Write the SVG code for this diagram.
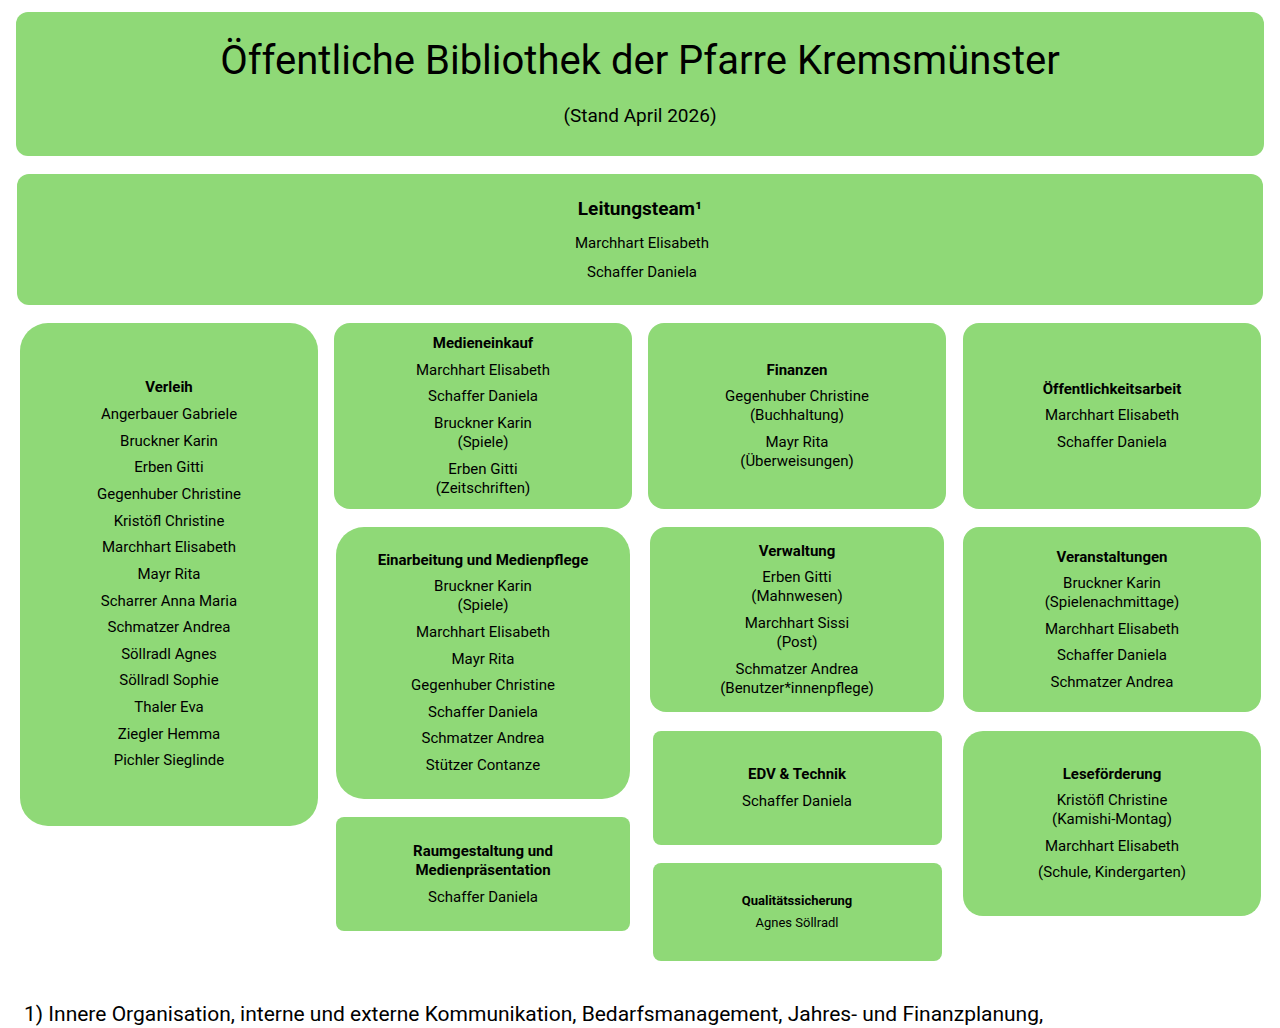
<svg xmlns="http://www.w3.org/2000/svg" width="1280" height="1028" viewBox="0 0 1280 1028">
<style>
.b{fill:#8FD977}
text{font-family:Roboto,"Liberation Sans",sans-serif;fill:#000;text-anchor:middle;font-size:15px}
.h{font-weight:bold}
</style>
<rect width="1280" height="1028" fill="#fff"/>
<g id="title"><rect class="b" x="16" y="12" width="1248" height="144" rx="12"/>
<text x="640" y="74" style="font-size:40px">Öffentliche Bibliothek der Pfarre Kremsmünster</text>
<text x="640" y="122" style="font-size:19px">(Stand April 2026)</text></g>
<g id="leitung"><rect class="b" x="17" y="174" width="1246" height="131" rx="12"/>
<text x="640" y="215" class="h" style="font-size:19px">Leitungsteam¹</text>
<text x="642" y="248">Marchhart Elisabeth</text><text x="642" y="277">Schaffer Daniela</text></g>
<g id="verleih"><rect class="b" x="20" y="323" width="298" height="503" rx="28"/>
<text x="169" y="392" class="h">Verleih</text>
<text x="169" y="419">Angerbauer Gabriele</text><text x="169" y="446">Bruckner Karin</text><text x="169" y="472">Erben Gitti</text><text x="169" y="499">Gegenhuber Christine</text><text x="169" y="526">Kristöfl Christine</text><text x="169" y="552">Marchhart Elisabeth</text><text x="169" y="579">Mayr Rita</text><text x="169" y="606">Scharrer Anna Maria</text><text x="169" y="632">Schmatzer Andrea</text><text x="169" y="659">Söllradl  Agnes</text><text x="169" y="685">Söllradl Sophie</text><text x="169" y="712">Thaler Eva</text><text x="169" y="739">Ziegler Hemma</text><text x="169" y="765">Pichler Sieglinde</text></g>
<g id="medieneinkauf"><rect class="b" x="334" y="323" width="298" height="186" rx="16"/>
<text x="483" y="348" class="h">Medieneinkauf</text><text x="483" y="375">Marchhart Elisabeth</text><text x="483" y="401">Schaffer Daniela</text><text x="483" y="428">Bruckner Karin</text><text x="483" y="447">(Spiele)</text><text x="483" y="474">Erben Gitti</text><text x="483" y="493">(Zeitschriften)</text></g>
<g id="finanzen"><rect class="b" x="648" y="323" width="298" height="186" rx="16"/>
<text x="797" y="375" class="h">Finanzen</text><text x="797" y="401">Gegenhuber Christine</text><text x="797" y="420">(Buchhaltung)</text><text x="797" y="447">Mayr Rita</text><text x="797" y="466">(Überweisungen)</text></g>
<g id="oeffentlichkeit"><rect class="b" x="963" y="323" width="298" height="186" rx="16"/>
<text x="1112" y="394" class="h">Öffentlichkeitsarbeit</text><text x="1112" y="420">Marchhart Elisabeth</text><text x="1112" y="447">Schaffer Daniela</text></g>
<g id="einarbeitung"><rect class="b" x="336" y="527" width="294" height="272" rx="28"/>
<text x="483" y="565" class="h">Einarbeitung und Medienpflege</text><text x="483" y="591">Bruckner Karin</text><text x="483" y="610">(Spiele)</text><text x="483" y="637">Marchhart Elisabeth</text><text x="483" y="664">Mayr Rita</text><text x="483" y="690">Gegenhuber Christine</text><text x="483" y="717">Schaffer Daniela</text><text x="483" y="743">Schmatzer Andrea</text><text x="483" y="770">Stützer Contanze</text></g>
<g id="verwaltung"><rect class="b" x="650" y="527" width="294" height="185" rx="16"/>
<text x="797" y="556" class="h">Verwaltung</text><text x="797" y="582">Erben Gitti</text><text x="797" y="601">(Mahnwesen)</text><text x="797" y="628">Marchhart Sissi</text><text x="797" y="647">(Post)</text><text x="797" y="674">Schmatzer Andrea</text><text x="797" y="693">(Benutzer*innenpflege)</text></g>
<g id="veranstaltungen"><rect class="b" x="963" y="527" width="298" height="185" rx="16"/>
<text x="1112" y="562" class="h">Veranstaltungen</text><text x="1112" y="588">Bruckner Karin</text><text x="1112" y="607">(Spielenachmittage)</text><text x="1112" y="634">Marchhart Elisabeth</text><text x="1112" y="660">Schaffer Daniela</text><text x="1112" y="687">Schmatzer Andrea</text></g>
<g id="edv"><rect class="b" x="653" y="731" width="289" height="114" rx="8"/>
<text x="797" y="779" class="h">EDV &amp; Technik</text><text x="797" y="806">Schaffer Daniela</text></g>
<g id="lesefoerderung"><rect class="b" x="963" y="731" width="298" height="185" rx="20"/>
<text x="1112" y="779" class="h">Leseförderung</text><text x="1112" y="805">Kristöfl Christine</text><text x="1112" y="824">(Kamishi-Montag)</text><text x="1112" y="851">Marchhart Elisabeth</text><text x="1112" y="877">(Schule, Kindergarten)</text></g>
<g id="raum"><rect class="b" x="336" y="817" width="294" height="114" rx="8"/>
<text x="483" y="856" class="h">Raumgestaltung und</text><text x="483" y="875" class="h">Medienpräsentation</text><text x="483" y="902">Schaffer Daniela</text></g>
<g id="qualitaet"><rect class="b" x="653" y="863" width="289" height="98" rx="8"/>
<text x="797" y="905" class="h" style="font-size:13px">Qualitätssicherung</text><text x="797" y="927" style="font-size:13px">Agnes Söllradl</text></g>
<g id="connectors"/>
<text x="24" y="1021" style="font-size:21px;text-anchor:start">1)  Innere Organisation, interne und externe Kommunikation, Bedarfsmanagement, Jahres- und Finanzplanung,</text>
</svg>
